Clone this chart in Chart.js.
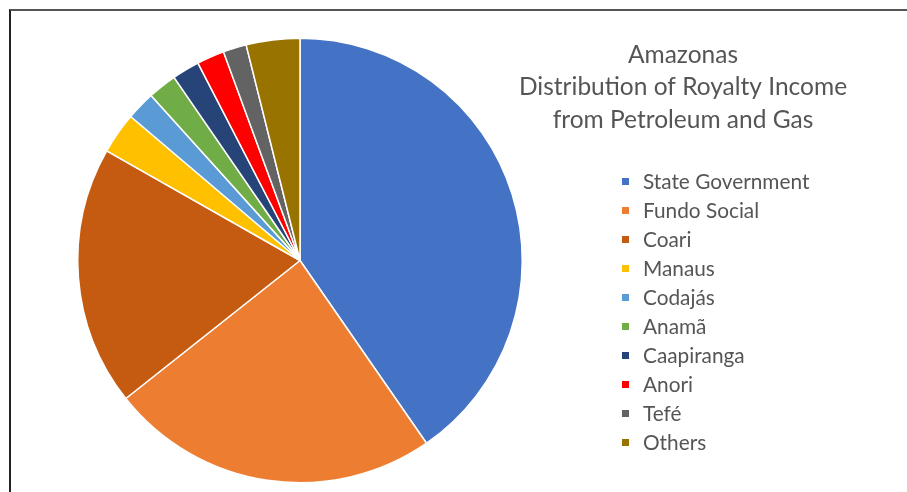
<!DOCTYPE html>
<html>
<head>
<meta charset="utf-8">
<script src="https://cdn.jsdelivr.net/npm/chart.js@4/dist/chart.umd.min.js"></script>
<style>
  html, body { margin: 0; padding: 0; background: #fff; }
  #wrap { position: relative; width: 907px; height: 492px; overflow: hidden; }
  #frame { position: absolute; left: 9px; top: 9px; width: 920px; height: 500px;
           border-top: 2px solid #555; border-left: 2px solid #222; box-sizing: border-box; }
  canvas { position: absolute; left: 0; top: 0; }
</style>
</head>
<body>
<div id="wrap">
  <div id="frame"></div>
  <canvas id="c" width="907" height="492"></canvas>
</div>
<script>
const titleLines = ["Amazonas", "Distribution of Royalty Income", "from Petroleum and Gas"];
const categories = ["State Government", "Fundo Social", "Coari", "Manaus", "Codajás", "Anamã", "Caapiranga", "Anori", "Tefé", "Others"];
const shares = [40.4, 24.0, 18.9, 3.0, 2.1, 2.1, 2.0, 2.0, 1.7, 3.9];
const colors = ["#4472C4", "#ED7D31", "#C55A11", "#FFC000", "#5B9BD5", "#70AD47", "#264478", "#FF0000", "#636363", "#997300"];

const FONT = "Lato, 'Open Sans', sans-serif";
const TEXT_COLOR = "#555555";

const sideText = {
  id: 'sideText',
  afterDraw(chart) {
    const ctx = chart.ctx;
    ctx.save();
    ctx.fillStyle = TEXT_COLOR;
    ctx.textAlign = 'center';
    ctx.textBaseline = 'middle';
    ctx.font = "24.5px " + FONT;
    const tx = 683;
    titleLines.forEach((t, i) => ctx.fillText(t, tx, 55 + i * 32.5));
    const ds = chart.data.datasets[0];
    ctx.font = "20.8px " + FONT;
    ctx.textAlign = 'left';
    chart.data.labels.forEach((lab, i) => {
      const y = 181 + i * 29;
      ctx.fillStyle = ds.backgroundColor[i];
      ctx.fillRect(622, y - 3, 7, 7);
      ctx.fillStyle = TEXT_COLOR;
      ctx.fillText(lab, 643, y + 1);
    });
    ctx.restore();
  }
};

new Chart(document.getElementById('c'), {
  type: 'pie',
  data: {
    labels: categories,
    datasets: [{
      data: shares,
      backgroundColor: colors,
      borderColor: '#ffffff',
      borderWidth: 1.5
    }]
  },
  options: {
    responsive: false,
    animation: false,
    layout: { padding: { left: 77, right: 384, top: 37, bottom: 8 } },
    plugins: {
      legend: { display: false },
      tooltip: { enabled: false },
      title: { display: false }
    }
  },
  plugins: [sideText]
});
</script>
</body>
</html>
